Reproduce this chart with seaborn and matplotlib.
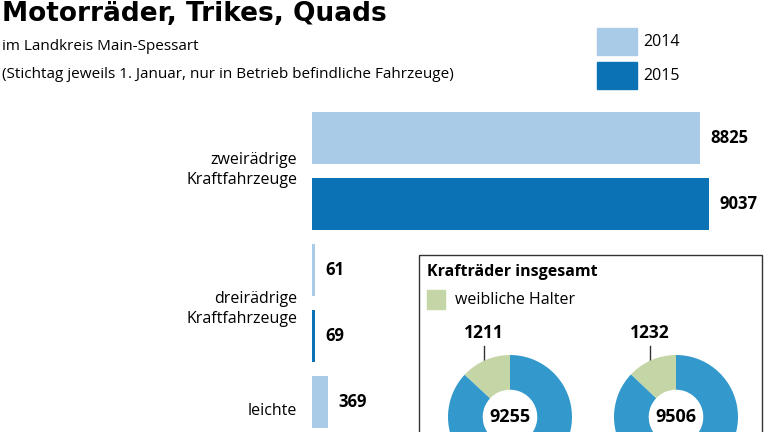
import matplotlib
matplotlib.use("Agg")
import matplotlib.pyplot as plt
import seaborn as sns
import pandas as pd
from matplotlib.patches import Rectangle

categories = ["zweirädrige\nKraftfahrzeuge", "dreirädrige\nKraftfahrzeuge", "leichte"]
years = ["2014", "2015"]
values_2014 = [8825, 61, 369]
values_2015 = [9037, 69]
donut_total = [9255, 9506]
donut_female = [1211, 1232]

C14, C15 = "#a9cbe8", "#0a72b5"
CD, CG = "#3399cc", "#c5d6a6"
plt.rcParams["font.family"] = ["Open Sans", "DejaVu Sans"]

W, H = 768, 432
fig = plt.figure(figsize=(7.68, 4.32), dpi=100)
bg = fig.add_axes([0, 0, 1, 1]); bg.set_xlim(0, W); bg.set_ylim(H, 0); bg.axis("off")

bg.text(2, 14, "Motorräder, Trikes, Quads", fontsize=19, fontweight="bold", va="center",
        family=["Liberation Sans Narrow", "DejaVu Sans"])
bg.text(2, 47, "im Landkreis Main-Spessart", fontsize=11, va="center")
bg.text(2, 75, "(Stichtag jeweils 1. Januar, nur in Betrieb befindliche Fahrzeuge)", fontsize=11, va="center")
for i, (y, c) in enumerate([(28, C14), (62, C15)]):
    bg.add_patch(Rectangle((597, y), 40, 27, color=c))
    bg.text(643, y + 14, years[i], fontsize=11.5, va="center")

# bars
rows, vals, cols = [], [], []
for i, v in enumerate(values_2014):
    rows.append(f"{i}-2014"); vals.append(v); cols.append(C14)
    if i < len(values_2015):
        rows.append(f"{i}-2015"); vals.append(values_2015[i]); cols.append(C15)
df = pd.DataFrame({"row": rows, "val": vals})
top, step = 105, 66
ax = fig.add_axes([312 / W, (H - (top + 6 * step)) / H, 456 / W, 6 * step / H])
sns.barplot(data=df, x="val", y="row", hue="row", palette=cols, legend=False, width=0.8,
            saturation=1, ax=ax, orient="h")
ax.set_xlim(0, 9037 * 456 / 397)
ax.set_ylim(5.5, -0.5)
ax.axis("off")
for i, v in enumerate(vals):
    ax.text(v + 240, i, f"{v}", va="center", fontsize=12, fontweight="bold")

label_y = [170, 309, 411]
for c, y in zip(categories, label_y):
    bg.text(297, y, c, ha="right", va="center", fontsize=11.5, linespacing=1.3)

# inset box
bg.add_patch(Rectangle((419, 255), 343, 200, fill=False, edgecolor="#333333", lw=1))
bg.text(427, 272, "Krafträder insgesamt", fontsize=11.5, fontweight="bold", va="center")
bg.add_patch(Rectangle((427, 290), 18, 19, color=CG))
bg.text(455, 300, "weibliche Halter", fontsize=11.5, va="center")

R = 62
for cx, tot, fem in [(510, donut_total[0], donut_female[0]), (676, donut_total[1], donut_female[1])]:
    cy = 417
    pa = fig.add_axes([(cx - R) / W, (H - cy - R) / H, 2 * R / W, 2 * R / H])
    pa.pie([fem, tot - fem], colors=[CG, CD], startangle=90, counterclock=True,
           wedgeprops=dict(width=0.56, linewidth=0))
    pa.set_xlim(-1, 1); pa.set_ylim(-1, 1); pa.set_aspect("auto")
    pa.text(0, 0, f"{tot}", ha="center", va="center", fontsize=13, fontweight="bold")
    bg.plot([cx - 26, cx - 26], [346, 368], color="#333333", lw=1, zorder=5)
    bg.text(cx - 26, 333, f"{fem}", ha="center", va="center", fontsize=12.5, fontweight="bold")

fig.savefig("out.png", dpi=100)
